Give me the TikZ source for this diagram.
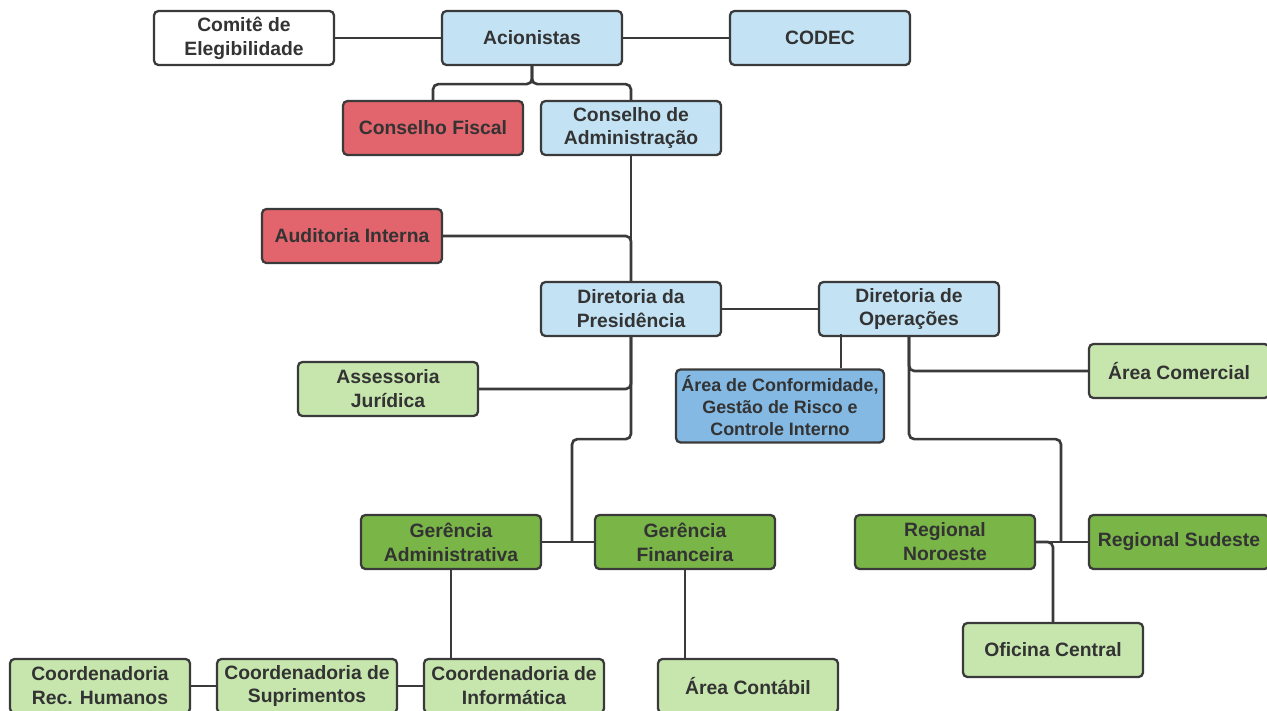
\documentclass[tikz,border=0pt]{standalone}
\usepackage{fontspec}
\setmainfont{Liberation Sans}
\usepackage{tikz}
\usetikzlibrary{positioning}

\definecolor{linha}{HTML}{3A3A3A}
\definecolor{texto}{HTML}{333333}
\definecolor{azulclaro}{HTML}{C3E3F5}
\definecolor{azulmedio}{HTML}{83B9E3}
\definecolor{vermelho}{HTML}{E2646C}
\definecolor{verdeclaro}{HTML}{C6E6AD}
\definecolor{verdeescuro}{HTML}{7AB548}

\begin{document}
\begin{tikzpicture}[x=0.02cm,y=-0.02cm,font=\bfseries\fontsize{11}{13.6}\selectfont,
    caixa/.style={draw=linha, line width=1.3pt, rounded corners=2.5pt, text=texto,
      minimum width=3.6cm, minimum height=1.08cm, align=center, inner sep=1pt},
    liga/.style={draw=linha, line width=1.5pt, rounded corners=3pt}]
    \useasboundingbox (0,0) rectangle (1267,710);
    % topo
    \node[caixa, fill=white] (comite) at (244,38) {Comitê de\\Elegibilidade};
    \node[caixa, fill=azulclaro] (acion) at (532,38) {Acionistas};
    \node[caixa, fill=azulclaro] (codec) at (820,38) {CODEC};
    \node[caixa, fill=vermelho] (fiscal) at (433,128) {Conselho Fiscal};
    \node[caixa, fill=azulclaro] (conselho) at (631,128) {Conselho de\\Administração};
    \node[caixa, fill=vermelho] (audit) at (352,236) {Auditoria Interna};
    % diretorias
    \node[caixa, fill=azulclaro] (presid) at (631,309) {Diretoria da\\Presidência};
    \node[caixa, fill=azulclaro] (operac) at (909,309) {Diretoria de\\Operações};
    \node[caixa, fill=verdeclaro] (assess) at (388,389) {Assessoria\\Jurídica};
    \node[caixa, fill=azulmedio, minimum width=4.16cm, minimum height=1.46cm,
      font=\bfseries\fontsize{10.2}{12.5}\selectfont] (conform) at (780,406)
      {Área de Conformidade,\\Gestão de Risco e\\Controle Interno};
    \node[caixa, fill=verdeclaro] (comerc) at (1179,371) {Área Comercial};
    % gerencias e regionais
    \node[caixa, fill=verdeescuro] (geradm) at (451,542) {Gerência\\Administrativa};
    \node[caixa, fill=verdeescuro] (gerfin) at (685,542) {Gerência\\Financeira};
    \node[caixa, fill=verdeescuro] (regno) at (945,542) {Regional\\Noroeste};
    \node[caixa, fill=verdeescuro] (regsu) at (1179,542) {Regional Sudeste};
    \node[caixa, fill=verdeclaro] (oficina) at (1053,650) {Oficina Central};
    % coordenadorias
    \node[caixa, fill=verdeclaro] (coordrh) at (100,686) {Coordenadoria\\Rec. Humanos};
    \node[caixa, fill=verdeclaro] (coordsup) at (307,686) {Coordenadoria de\\Suprimentos};
    \node[caixa, fill=verdeclaro] (coordinf) at (514,686) {Coordenadoria de\\Informática};
    \node[caixa, fill=verdeclaro] (contabil) at (748,686) {Área Contábil};
    \coordinate (jadm) at (572,542);
    \coordinate (jreg) at (1061,542);

    % ligacoes
    \draw[liga] (comite) -- (acion);
    \draw[liga] (acion) -- (codec);
    \draw[liga] (acion.south) -- ++(0,18) -| (fiscal.north);
    \draw[liga] (acion.south) -- ++(0,18) -| (conselho.north);
    \draw[liga] (conselho) -- (presid);
    \draw[liga] (audit) -| (presid.north);
    \draw[liga] (presid) -- (operac);
    \draw[liga] (assess) -| (presid.south);
    \draw[liga] (presid.south) -- ++(0,102) -| (jadm);
    \draw[liga] (geradm) -- (gerfin);
    \draw[liga] ([xshift=1.22cm]conform.north) -- ++(0,-34);
    \draw[liga] (operac.south) |- (comerc.west);
    \draw[liga] (operac.south) -- ++(0,102) -| (jreg);
    \draw[liga] (regno) -- (regsu);
    \draw[liga] (oficina.north) |- (regno.east);
    \draw[liga] (geradm.south) -- (geradm.south |- coordinf.north);
    \draw[liga] (gerfin.south) -- (gerfin.south |- contabil.north);
    \draw[liga] (coordrh) -- (coordsup);
    \draw[liga] (coordsup) -- (coordinf);
\end{tikzpicture}
\end{document}
